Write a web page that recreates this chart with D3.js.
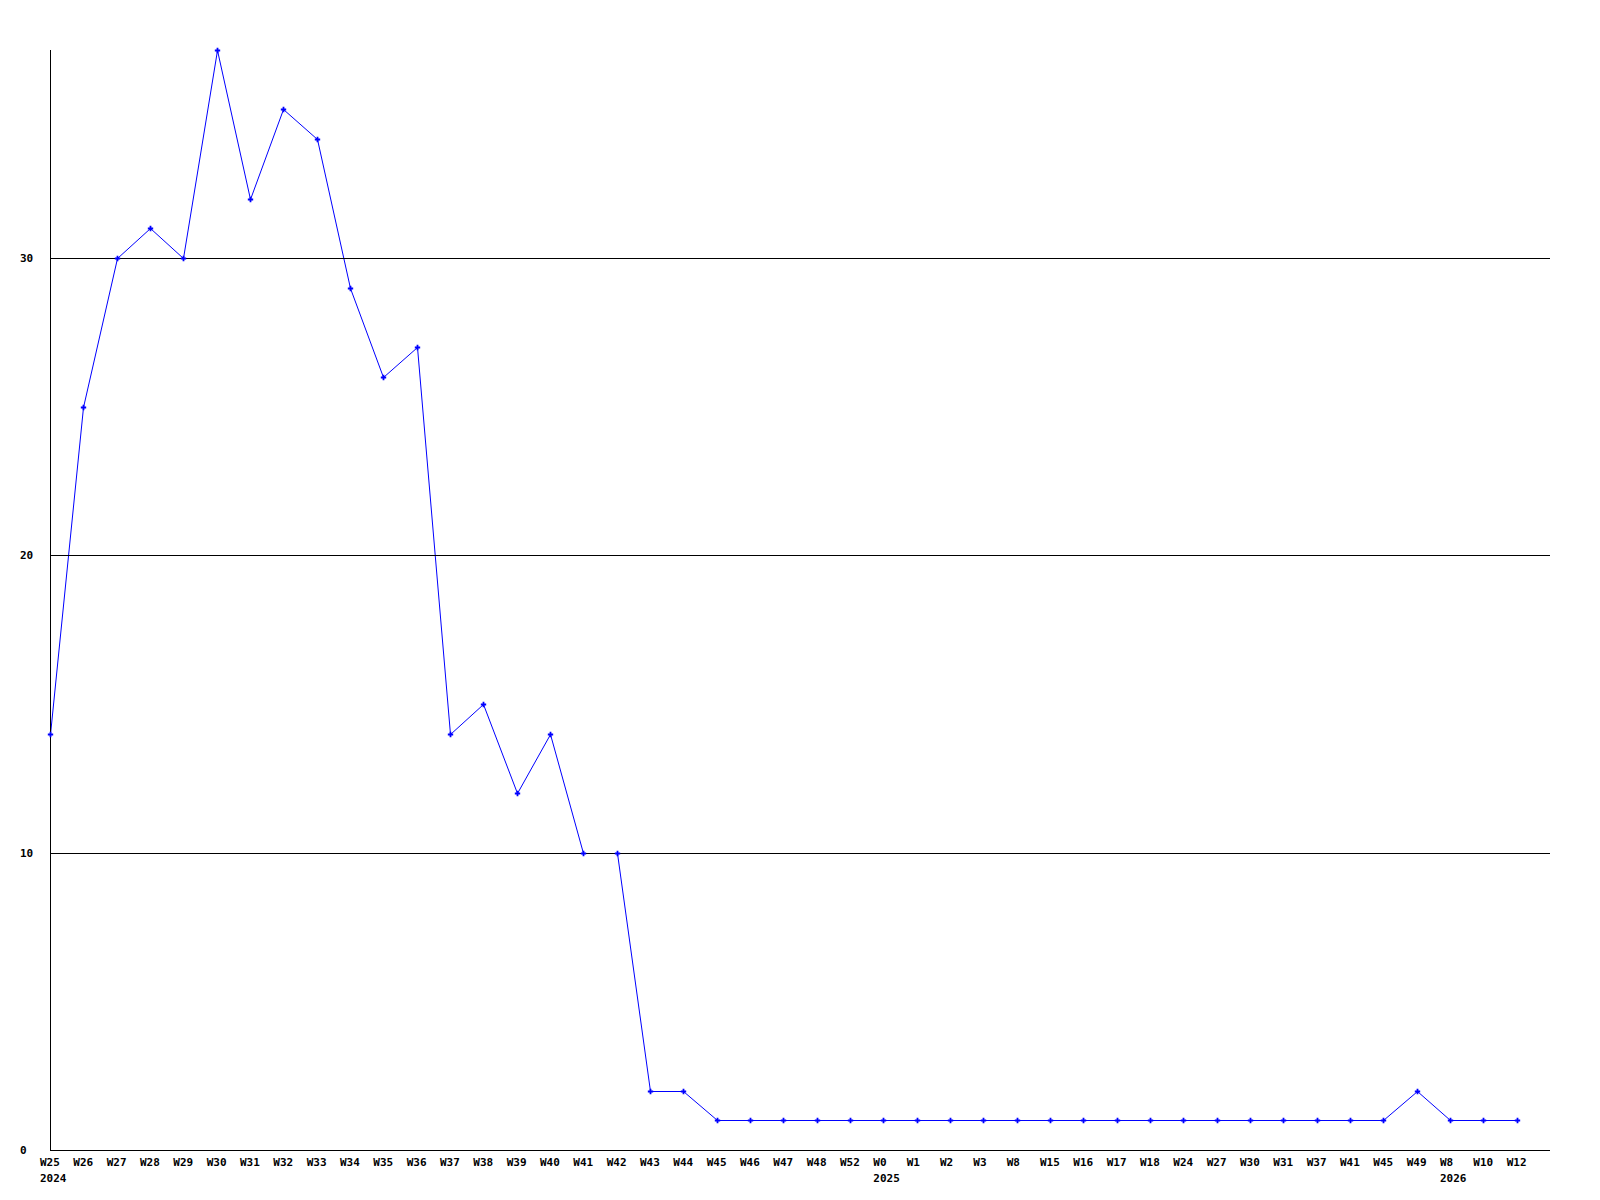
<!DOCTYPE html>
<html>
<head>
<meta charset="utf-8">
<script src="https://cdn.jsdelivr.net/npm/d3@7"></script>
<style>
  body { margin: 0; background: #fff; }
  svg text { font-family: "DejaVu Sans Mono", monospace; font-weight: bold; font-size: 11px; fill: #000; }
</style>
</head>
<body>
<svg id="chart" width="1600" height="1200"></svg>
<script>
const svg = d3.select("#chart");

// week labels along the x axis
const weeks = [
    "W25", "W26", "W27", "W28", "W29", "W30", "W31", "W32", "W33", "W34",
    "W35", "W36", "W37", "W38", "W39", "W40", "W41", "W42", "W43", "W44",
    "W45", "W46", "W47", "W48", "W52",
    "W0", "W1", "W2", "W3", "W8", "W15", "W16", "W17", "W18", "W24",
    "W27", "W30", "W31", "W37", "W41", "W45", "W49",
    "W8", "W10", "W12"
];

// year markers: index of the week where the year starts
const years = [
    { at: 0, label: "2024" },
    { at: 25, label: "2025" },
    { at: 42, label: "2026" }
];

const values = [
    14, 25, 30, 31, 30, 37, 32, 35, 34, 29,
    26, 27, 14, 15, 12, 14, 10, 10, 2, 2,
    1, 1, 1, 1, 1,
    1, 1, 1, 1, 1, 1, 1, 1, 1, 1,
    1, 1, 1, 1, 1, 1, 2,
    1, 1, 1
];

const yTicks = [0, 10, 20, 30];

/*
/   Scales
*/

const plotLeft = 50, plotRight = 1550, plotTop = 50, plotBottom = 1150;
const labelShift = 10;

const x = d3.scaleBand()
    .domain(d3.range(weeks.length))
    .range([plotLeft, plotRight])
    .align(0);

const y = d3.scaleLinear()
    .domain([0, d3.max(values)])
    .range([plotBottom, plotTop]);

// snap to the pixel grid so the line and grid share rows
const py = d => Math.round(y(d)) + 0.5;
const px = i => Math.round(x(i)) + 0.5;

// data line (drawn under the grid, like the original)
const line = d3.line()
    .x((d, i) => px(i))
    .y(d => py(d));

svg.append("path")
    .datum(values)
    .attr("d", line)
    .attr("fill", "none")
    .attr("stroke", "#0000ff")
    .attr("stroke-width", 1);

// grid lines
svg.append("g")
    .selectAll("line")
    .data(yTicks.filter(d => d > 0))
    .join("line")
    .attr("x1", plotLeft)
    .attr("x2", plotRight)
    .attr("y1", py)
    .attr("y2", py)
    .attr("stroke", "#000")
    .attr("stroke-width", 1)
    .attr("shape-rendering", "crispEdges");

// axes
svg.append("line")
    .attr("x1", plotLeft + 0.5).attr("x2", plotLeft + 0.5)
    .attr("y1", plotTop).attr("y2", plotBottom)
    .attr("stroke", "#000")
    .attr("shape-rendering", "crispEdges");

svg.append("line")
    .attr("x1", plotLeft).attr("x2", plotRight)
    .attr("y1", plotBottom + 0.5).attr("y2", plotBottom + 0.5)
    .attr("stroke", "#000")
    .attr("shape-rendering", "crispEdges");

// point markers
const marker = d3.symbol().type(d3.symbolCross).size(16);

svg.append("g")
    .selectAll("path")
    .data(values)
    .join("path")
    .attr("d", marker)
    .attr("transform", (d, i) => `translate(${px(i)},${py(d)})`)
    .attr("fill", "#0000ff");

// y labels
svg.append("g")
    .selectAll("text")
    .data(yTicks)
    .join("text")
    .attr("x", 20)
    .attr("y", d => y(d) + 4)
    .text(d => d);

// x labels, left aligned a little before their point
svg.append("g")
    .selectAll("text")
    .data(weeks)
    .join("text")
    .attr("x", (d, i) => x(i) - labelShift)
    .attr("y", 1166)
    .text(d => d);

// year labels under the week where the year starts
svg.append("g")
    .selectAll("text")
    .data(years)
    .join("text")
    .attr("x", d => x(d.at) - labelShift)
    .attr("y", 1182)
    .text(d => d.label);
</script>
</body>
</html>
